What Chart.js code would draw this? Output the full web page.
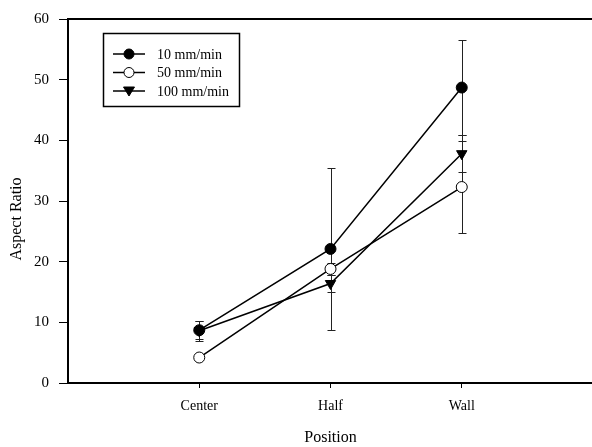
<!DOCTYPE html>
<html>
<head>
<meta charset="utf-8">
<script src="https://cdn.jsdelivr.net/npm/chart.js@4.4.0/dist/chart.umd.min.js"></script>
<style>
  html, body { margin: 0; padding: 0; background: #fff; overflow: hidden; }
  #wrap { width: 592px; height: 447px; overflow: hidden; }
</style>
</head>
<body>
<div id="wrap"><canvas id="chart" width="600" height="447"></canvas></div>
<script>
const categories = ['Center', 'Half', 'Wall'];
const seriesNames = ['10 mm/min', '50 mm/min', '100 mm/min'];
const ratio10 = [8.7, 22.1, 48.7];
const err10 = [1.5, 13.3, 7.8];
const ratio50 = [4.2, 18.8, 32.3];
const err50 = [0.4, 1.0, 7.6];
const ratio100 = [8.6, 16.4, 37.8];
const err100 = [1.7, 1.4, 3.1];
const yTicks = [0, 10, 20, 30, 40, 50, 60];

const FONT = '"Liberation Serif", "Times New Roman", serif';

const toPoints = (vals, errs) => vals.map((v, i) => ({ x: i + 1, y: v, err: errs[i] }));

// error bars, drawn behind the markers
const errorBars = {
  id: 'errorBars',
  beforeDatasetsDraw(chart) {
    const { ctx, scales: { x, y } } = chart;
    ctx.save();
    ctx.strokeStyle = '#222';
    ctx.lineWidth = 1;
    chart.data.datasets.forEach(ds => {
      ds.data.forEach(p => {
        const px = Math.round(x.getPixelForValue(p.x)) + 0.5;
        const top = Math.round(y.getPixelForValue(p.y + p.err)) + 0.5;
        const bot = Math.round(y.getPixelForValue(p.y - p.err)) + 0.5;
        ctx.beginPath();
        ctx.moveTo(px, top); ctx.lineTo(px, bot);
        ctx.moveTo(px - 4, top); ctx.lineTo(px + 4, top);
        ctx.moveTo(px - 4, bot); ctx.lineTo(px + 4, bot);
        ctx.stroke();
      });
    });
    ctx.restore();
  }
};

// top frame line, y title and boxed legend
const frameAndLegend = {
  id: 'frameAndLegend',
  afterDraw(chart) {
    const { ctx, chartArea } = chart;
    ctx.save();
    ctx.strokeStyle = '#000';
    ctx.lineWidth = 2;
    ctx.beginPath();
    ctx.moveTo(chartArea.left, chartArea.top);
    ctx.lineTo(chartArea.right, chartArea.top);
    ctx.stroke();

    // y axis title (sits a bit below the middle in the original)
    ctx.save();
    ctx.translate(17, 219);
    ctx.rotate(-Math.PI / 2);
    ctx.fillStyle = '#000';
    ctx.font = '16px ' + FONT;
    ctx.textAlign = 'center';
    ctx.textBaseline = 'middle';
    ctx.fillText('Aspect Ratio', 0, 0);
    ctx.restore();

    // legend box
    ctx.lineWidth = 1.5;
    ctx.strokeRect(103.5, 33.5, 136, 73);
    chart.data.datasets.forEach((ds, i) => {
      const ly = 54 + i * 18.5;
      ctx.strokeStyle = '#000';
      ctx.lineWidth = 1.5;
      ctx.beginPath();
      ctx.moveTo(113, ly); ctx.lineTo(145, ly);
      ctx.stroke();
      ctx.fillStyle = ds.pointBackgroundColor;
      ctx.lineWidth = 1;
      if (ds.pointStyle === 'triangle') {
        ctx.beginPath();
        ctx.moveTo(123.5, ly - 4);
        ctx.lineTo(134.5, ly - 4);
        ctx.lineTo(129, ly + 5);
        ctx.closePath();
      } else {
        ctx.beginPath();
        ctx.arc(129, ly, 5, 0, Math.PI * 2);
      }
      ctx.fill();
      ctx.stroke();
      ctx.fillStyle = '#000';
      ctx.font = '14px ' + FONT;
      ctx.textBaseline = 'middle';
      ctx.fillText(ds.label, 157, ly + 1);
    });
    ctx.restore();
  }
};

new Chart(document.getElementById('chart'), {
  type: 'line',
  data: {
    datasets: [
      {
        label: seriesNames[0],
        data: toPoints(ratio10, err10),
        borderColor: '#000',
        borderWidth: 1.5,
        pointStyle: 'circle',
        pointRadius: 5.5,
        pointBackgroundColor: '#000',
        pointBorderColor: '#000',
        pointBorderWidth: 1
      },
      {
        label: seriesNames[1],
        data: toPoints(ratio50, err50),
        borderColor: '#000',
        borderWidth: 1.5,
        pointStyle: 'circle',
        pointRadius: 5.5,
        pointBackgroundColor: '#fff',
        pointBorderColor: '#000',
        pointBorderWidth: 1
      },
      {
        label: seriesNames[2],
        data: toPoints(ratio100, err100),
        borderColor: '#000',
        borderWidth: 1.5,
        pointStyle: 'triangle',
        rotation: 180,
        pointRadius: 6,
        pointBackgroundColor: '#000',
        pointBorderColor: '#000',
        pointBorderWidth: 1
      }
    ]
  },
  options: {
    responsive: false,
    animation: false,
    layout: { padding: { top: 13, right: 0, bottom: 0, left: 0 } },
    plugins: {
      legend: { display: false },
      tooltip: { enabled: false }
    },
    scales: {
      x: {
        type: 'linear',
        min: 0,
        max: 4,
        afterBuildTicks: s => { s.ticks = categories.map((c, i) => ({ value: i + 1 })); },
        afterFit: s => { s.height = 64; },
        ticks: {
          callback: v => categories[v - 1],
          color: '#000',
          font: { family: FONT, size: 14 },
          padding: 10,
          maxRotation: 0
        },
        grid: { drawOnChartArea: false, color: '#000', tickLength: 5, tickWidth: 1 },
        border: { color: '#000', width: 2 },
        title: {
          display: true,
          text: 'Position',
          color: '#000',
          font: { family: FONT, size: 16 },
          padding: { top: 0, bottom: 0 }
        }
      },
      y: {
        min: 0,
        max: 60,
        afterBuildTicks: s => { s.ticks = yTicks.map(v => ({ value: v })); },
        afterFit: s => { s.width = 68; },
        ticks: {
          color: '#000',
          font: { family: FONT, size: 15 },
          padding: 10
        },
        grid: { drawOnChartArea: false, color: '#000', tickLength: 9, tickWidth: 1 },
        border: { color: '#000', width: 2 },
        title: { display: false }
      }
    }
  },
  plugins: [errorBars, frameAndLegend]
});
</script>
</body>
</html>
